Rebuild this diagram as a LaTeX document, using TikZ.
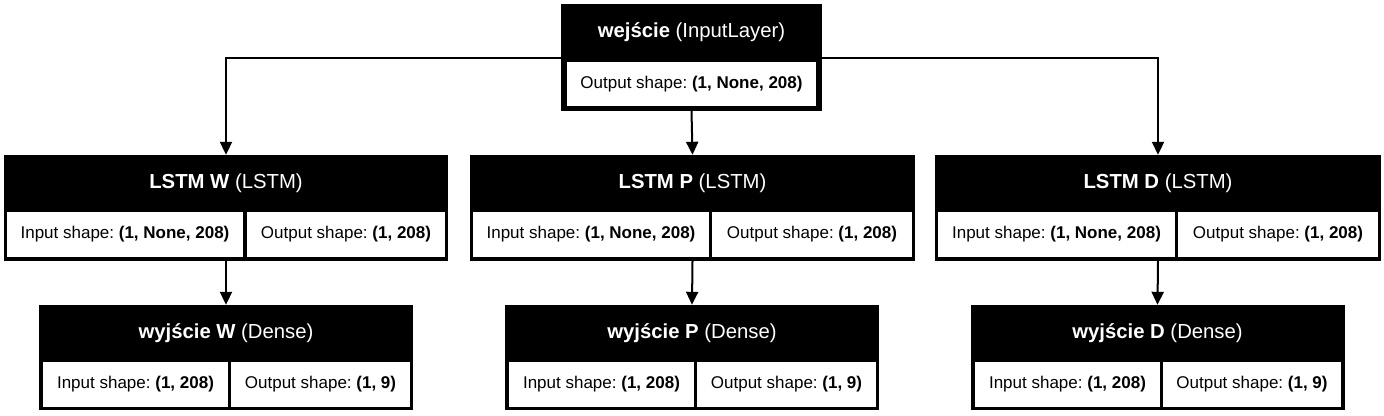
\documentclass[tikz,border=0pt]{standalone}
\usepackage{fontspec}
\setmainfont{Liberation Sans}
\usetikzlibrary{positioning,arrows.meta,calc}

\newcommand{\headfont}{\fontsize{20.3}{23}\selectfont\frenchspacing}
\newcommand{\cellfont}{\fontsize{17}{19}\selectfont\frenchspacing}

\begin{document}
\begin{tikzpicture}[x=1pt,y=-1pt,
            layer/.style={fill=black, inner sep=0pt},
            head/.style={text=white, inner sep=0pt, font=\headfont},
            cell/.style={fill=white, inner sep=0pt, minimum height=45pt, font=\cellfont},
            conn/.style={line width=2pt, -{Triangle[width=12pt,length=13pt]}}]

            \useasboundingbox (0,0) rectangle (1384,415);

            % input layer
            \node [layer, minimum width=261pt, minimum height=107pt] (inp) at (691.5,57.5) {};
            \node [head] (inpH) at (691.5,32) {\textbf{wejście} (InputLayer)};
            \node [cell, minimum width=249pt, minimum height=44pt] (inpO) at (691.5,84)
                {Output shape: \textbf{(1, None, 208)}};

            % LSTM layers
            \node [layer, minimum width=444pt, minimum height=106pt] (lstmW) at (226,208) {};
            \node [head] (lstmWH) at (226,183) {\textbf{LSTM W} (LSTM)};
            \node [cell, minimum width=236pt] (lstmWI) at (125,234.5) {Input shape: \textbf{(1, None, 208)}};
            \node [cell, minimum width=198pt] (lstmWO) at (346,234.5) {Output shape: \textbf{(1, 208)}};

            \node [layer, minimum width=445pt, minimum height=106pt] (lstmP) at (692.5,208) {};
            \node [head] (lstmPH) at (692.5,183) {\textbf{LSTM P} (LSTM)};
            \node [cell, minimum width=236pt] (lstmPI) at (591,234.5) {Input shape: \textbf{(1, None, 208)}};
            \node [cell, minimum width=200pt] (lstmPO) at (812,234.5) {Output shape: \textbf{(1, 208)}};

            \node [layer, minimum width=446pt, minimum height=106pt] (lstmD) at (1158,208) {};
            \node [head] (lstmDH) at (1158,183) {\textbf{LSTM D} (LSTM)};
            \node [cell, minimum width=237pt] (lstmDI) at (1056.5,234.5) {Input shape: \textbf{(1, None, 208)}};
            \node [cell, minimum width=200pt] (lstmDO) at (1278,234.5) {Output shape: \textbf{(1, 208)}};

            % dense layers
            \node [layer, minimum width=374pt, minimum height=105pt] (outW) at (226,357.5) {};
            \node [head] (outWH) at (226,333) {\textbf{wyjście W} (Dense)};
            \node [cell, minimum width=185pt] (outWI) at (135.5,384.5) {Input shape: \textbf{(1, 208)}};
            \node [cell, minimum width=179pt] (outWO) at (320.5,384.5) {Output shape: \textbf{(1, 9)}};

            \node [layer, minimum width=374pt, minimum height=105pt] (outP) at (692,357.5) {};
            \node [head] (outPH) at (692,333) {\textbf{wyjście P} (Dense)};
            \node [cell, minimum width=185pt] (outPI) at (601.5,384.5) {Input shape: \textbf{(1, 208)}};
            \node [cell, minimum width=179pt] (outPO) at (786.5,384.5) {Output shape: \textbf{(1, 9)}};

            \node [layer, minimum width=374pt, minimum height=105pt] (outD) at (1157.5,357.5) {};
            \node [head] (outDH) at (1157.5,333) {\textbf{wyjście D} (Dense)};
            \node [cell, minimum width=185pt] (outDI) at (1067.5,384.5) {Input shape: \textbf{(1, 208)}};
            \node [cell, minimum width=178pt] (outDO) at (1252,384.5) {Output shape: \textbf{(1, 9)}};

            % connectors
            \draw [conn] (inp.west) -| (lstmW.north);
            \draw [conn] (inp.south) -- (lstmP.north);
            \draw [conn] (inp.east) -| (lstmD.north);
            \draw [conn] (lstmW.south) -- (outW.north);
            \draw [conn] (lstmP.south) -- (outP.north);
            \draw [conn] (lstmD.south) -- (outD.north);
\end{tikzpicture}
\end{document}
